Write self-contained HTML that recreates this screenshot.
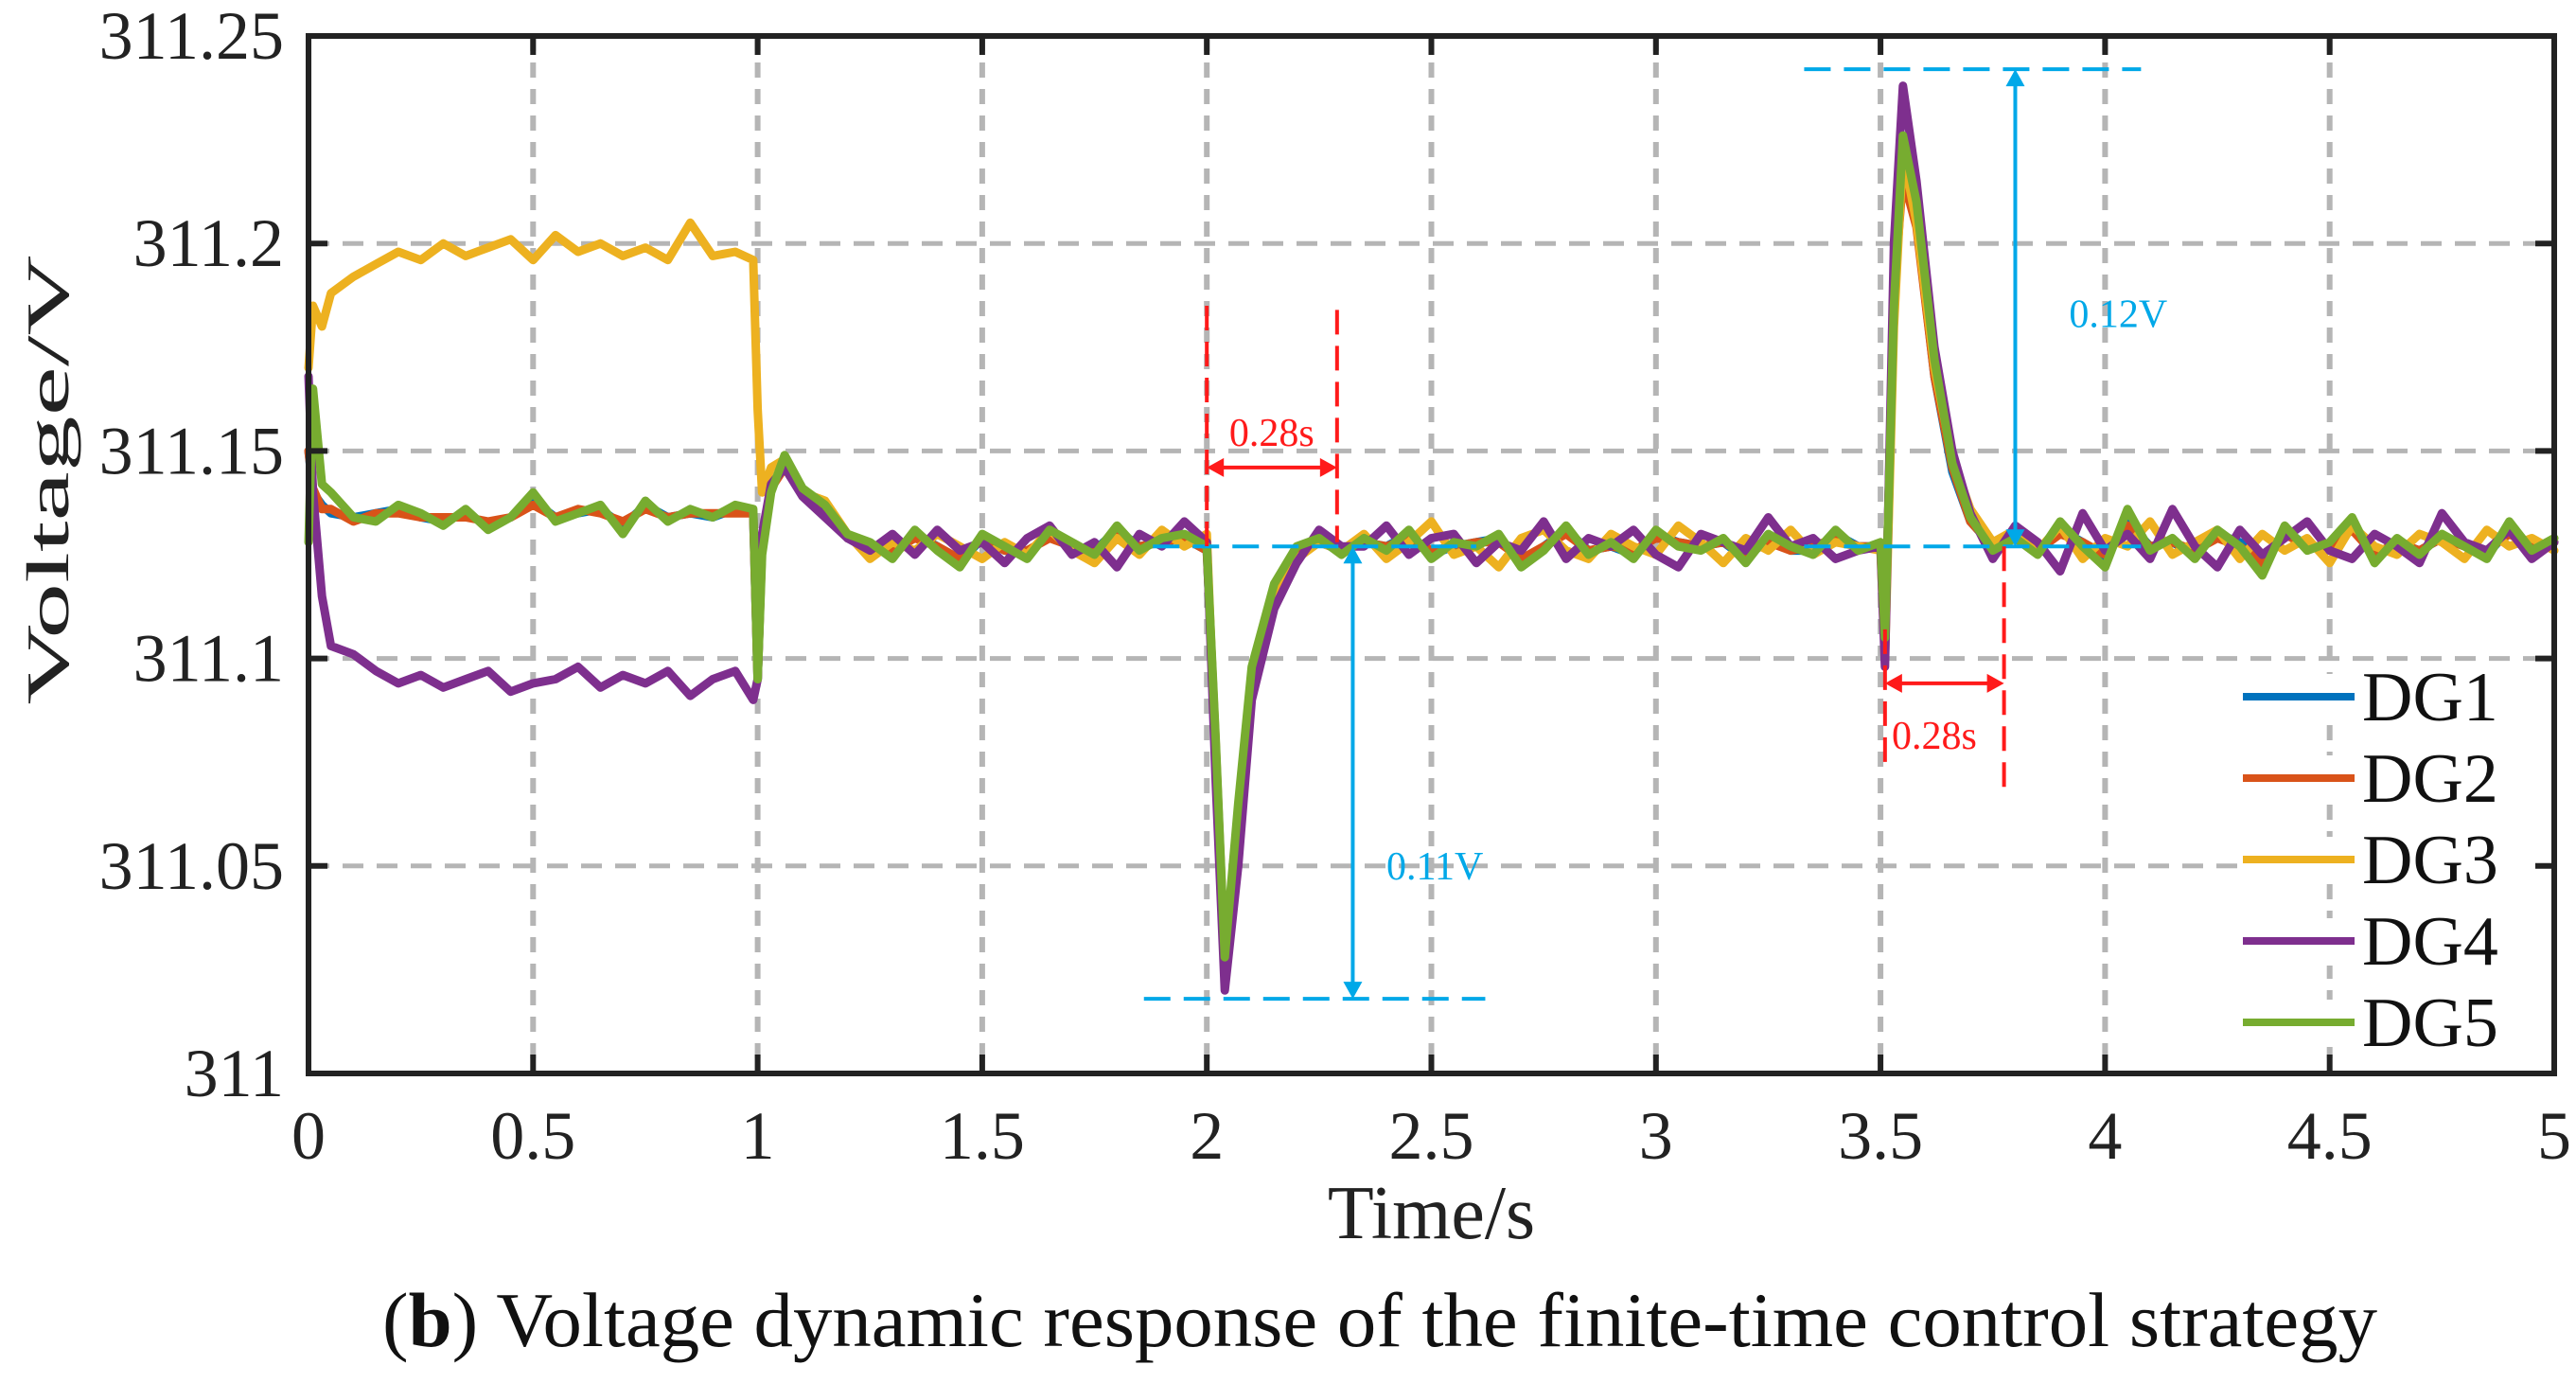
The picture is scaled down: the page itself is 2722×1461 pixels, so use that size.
<!DOCTYPE html>
<html><head><meta charset="utf-8"><style>
html,body{margin:0;padding:0;background:#fff;}
svg{display:block;font-family:"Liberation Serif",serif;}
</style></head><body>
<svg id="chart" width="2722" height="1461" viewBox="0 0 2722 1461" xmlns="http://www.w3.org/2000/svg"></svg>
<script>
const xTicks=[0,0.5,1,1.5,2,2.5,3,3.5,4,4.5,5];
const xTickLabels=["0","0.5","1","1.5","2","2.5","3","3.5","4","4.5","5"];
const yTicks=[311,311.05,311.1,311.15,311.2,311.25];
const yTickLabels=["311","311.05","311.1","311.15","311.2","311.25"];
const seriesNames=["DG1","DG2","DG3","DG4","DG5"];
const seriesColors=["#0072bd","#d95319","#edb120","#7e2f8e","#77ac30"];
const times=[0,0.01,0.03,0.05,0.1,0.15,0.2,0.25,0.3,0.35,0.4,0.45,0.5,0.55,0.6,0.65,0.7,0.75,0.8,0.85,0.9,0.95,0.99,
1.0,1.01,1.03,1.06,1.1,1.15,1.2,1.25,1.3,1.35,1.4,1.45,1.5,1.55,1.6,1.65,1.7,1.75,1.8,1.85,1.9,1.95,
2.0,2.02,2.04,2.07,2.1,2.15,2.2,2.25,2.3,2.35,2.4,2.45,2.5,2.55,2.6,2.65,2.7,2.75,2.8,2.85,2.9,2.95,3.0,3.05,3.1,3.15,3.2,3.25,3.3,3.35,3.4,3.45,
3.5,3.51,3.53,3.55,3.58,3.62,3.66,3.7,3.75,3.8,3.85,3.9,3.95,4.0,4.05,4.1,4.15,4.2,4.25,4.3,4.35,4.4,4.45,4.5,4.55,4.6,4.65,4.7,4.75,4.8,4.85,4.9,4.95,5.0];
// values in mV above 311 V
const dg1=[150,140,137,135,134,135,136,134,133,135,132,134,138,134,135,136,132,137,134,135,134,136,135,
95,128,141,147,140,136,129,127,125,130,127,123,129,126,125,130,127,126,131,127,128,129,
126,78,26,63,96,116,126,128,126,128,127,130,125,127,128,129,123,127,131,126,127,125,130,128,127,128,124,129,126,126,130,127,
127,103,190,218,205,168,145,133,127,130,126,131,128,124,133,127,128,125,130,128,122,131,127,127,132,124,128,126,129,128,125,131,127,128];
const dg2=[150,141,136,136,133,135,135,134,134,134,133,134,137,134,136,135,133,136,134,135,135,135,135,
95,127,141,146,140,137,129,127,126,129,127,124,129,126,126,129,127,126,130,127,128,129,
126,79,27,62,95,116,125,128,126,128,127,129,126,127,128,128,124,127,130,126,127,126,129,128,127,128,125,128,126,127,129,127,
127,104,188,216,204,168,146,133,127,130,126,130,128,125,132,127,128,126,129,127,123,130,127,127,131,125,128,126,129,127,126,130,127,128];
const dg3=[170,185,180,188,192,195,198,196,200,197,199,201,196,202,198,200,197,199,196,205,197,198,196,
160,140,146,148,140,138,130,124,128,126,130,127,124,128,125,131,126,123,129,125,131,127,
130,75,25,60,95,115,124,128,126,130,124,128,133,125,127,122,129,131,126,124,130,127,125,132,128,123,129,126,131,125,128,127,
126,100,180,222,205,170,148,136,128,131,126,132,124,129,127,133,125,128,131,124,130,126,129,123,132,127,125,130,128,124,131,127,129,126];
const dg4=[168,140,115,103,101,97,94,96,93,95,97,92,94,95,98,93,96,94,97,91,95,97,90,
95,130,142,146,139,134,129,126,130,125,131,126,128,123,129,132,125,128,122,130,127,133,
128,70,20,50,90,112,123,131,127,127,132,125,129,130,123,128,126,133,124,129,127,131,125,122,130,128,126,134,127,129,124,126,
127,98,200,238,215,175,150,135,124,132,128,121,135,126,130,124,136,127,122,131,125,129,133,126,124,130,127,123,135,128,126,131,124,128];
const dg5=[128,165,142,140,134,133,137,135,132,136,131,134,140,133,135,137,130,138,133,136,134,137,136,
95,125,140,149,141,137,130,128,124,131,126,122,130,127,124,131,128,125,132,126,129,130,
127,80,28,65,98,118,127,129,125,129,126,131,124,128,127,130,122,126,132,125,128,124,131,127,126,129,123,130,127,125,131,126,
128,105,185,226,210,172,147,134,126,129,125,133,127,122,136,126,129,124,131,127,120,132,126,128,134,123,129,125,130,127,124,133,126,129];
const seriesData=[dg1,dg2,dg3,dg4,dg5];

const NS="http://www.w3.org/2000/svg";
const svg=document.getElementById('chart');
const L=326,R=2699,T=38,B=1134;
const xS=t=>L+(t-0)/(5-0)*(R-L);
const yS=v=>B-(v-311)/(0.25)*(B-T);
function mk(tag,attrs,parent){const e=document.createElementNS(NS,tag);for(const k in attrs)e.setAttribute(k,attrs[k]);(parent||svg).appendChild(e);return e;}

const grid=mk('g',{});


xTicks.forEach(t=>{if(t>0&&t<5){const l=mk('line',{x1:xS(t),x2:xS(t),y1:T,y2:B,stroke:'#b5b5b5','stroke-width':6,'stroke-dasharray':'16,12'},grid);

}});
yTicks.forEach(v=>{if(v>311&&v<311.25){const l=mk('line',{x1:L,x2:R,y1:yS(v),y2:yS(v),stroke:'#b5b5b5','stroke-width':5,'stroke-dasharray':'22,14'},grid);

}});

const sg=mk('g',{fill:'none','stroke-width':9,'stroke-linejoin':'round','stroke-linecap':'round'});


seriesData.forEach((arr,i)=>{
  const d=arr.map((v,j)=>(j?'L':'M')+xS(times[j]).toFixed(1)+','+yS(311+v/1000).toFixed(1)).join('');
  const p=mk('path',{d:d,stroke:seriesColors[i]},sg);
  
  
});

const cyan='#00a8e8', red='#ff1a1a';
const ann=mk('g',{});


function dl(x1,y1,x2,y2,c,da,w){return mk('line',{x1,y1,x2,y2,stroke:c,'stroke-width':w||4,'stroke-dasharray':da||'none'},ann);}
function arrowHead(x,y,dir,c){const s=18,w=10;let pts;
 if(dir==='up')pts=`${x},${y} ${x-w},${y+s} ${x+w},${y+s}`;
 if(dir==='down')pts=`${x},${y} ${x-w},${y-s} ${x+w},${y-s}`;
 if(dir==='left')pts=`${x},${y} ${x+s},${y-w} ${x+s},${y+w}`;
 if(dir==='right')pts=`${x},${y} ${x-s},${y-w} ${x-s},${y+w}`;
 mk('polygon',{points:pts,fill:c},ann);}
dl(xS(1.86),yS(311.018),xS(2.62),yS(311.018),cyan,'28,14');
dl(xS(1.88),yS(311.127),xS(2.6),yS(311.127),cyan,'28,14');
dl(xS(3.33),yS(311.242),xS(4.08),yS(311.242),cyan,'28,14');
dl(xS(3.33),yS(311.127),xS(4.08),yS(311.127),cyan,'28,14');
dl(xS(2.325),yS(311.127)+14,xS(2.325),yS(311.018)-14,cyan);
arrowHead(xS(2.325),yS(311.127),'up',cyan);arrowHead(xS(2.325),yS(311.018),'down',cyan);
dl(xS(3.80),yS(311.242)+14,xS(3.80),yS(311.127)-14,cyan);
arrowHead(xS(3.80),yS(311.242),'up',cyan);arrowHead(xS(3.80),yS(311.127),'down',cyan);
const t1=mk('text',{x:xS(2.40),y:yS(311.05)+14,fill:cyan,'font-size':42},ann);t1.textContent='0.11V';


const t2=mk('text',{x:xS(3.92),y:yS(311.183)+14,fill:cyan,'font-size':42},ann);t2.textContent='0.12V';


dl(xS(2.0),yS(311.185),xS(2.0),yS(311.127),red,'26,12');
dl(xS(2.29),yS(311.184),xS(2.29),yS(311.128),red,'26,12');
dl(xS(2.0)+14,yS(311.146),xS(2.29)-14,yS(311.146),red);
arrowHead(xS(2.0),yS(311.146),'left',red);arrowHead(xS(2.29),yS(311.146),'right',red);
const t3=mk('text',{x:xS(2.05),y:yS(311.154)+12,fill:red,'font-size':42},ann);t3.textContent='0.28s';


dl(xS(3.51),yS(311.107),xS(3.51),yS(311.075),red,'26,12');
dl(xS(3.775),yS(311.127),xS(3.775),yS(311.069),red,'26,12');
dl(xS(3.51)+14,yS(311.094),xS(3.775)-14,yS(311.094),red);
arrowHead(xS(3.51),yS(311.094),'left',red);arrowHead(xS(3.775),yS(311.094),'right',red);
const t4=mk('text',{x:xS(3.525),y:yS(311.081)+12,fill:red,'font-size':42},ann);t4.textContent='0.28s';



const lg=mk('g',{});


const legY=[736,822,908,994,1080];
seriesNames.forEach((n,i)=>{
  const g=mk('g',{},lg);
  
  
  mk('rect',{x:2366,y:legY[i]-24,width:325,height:50,fill:'#fff'},g);
  mk('line',{x1:2370,x2:2488,y1:legY[i],y2:legY[i],stroke:seriesColors[i],'stroke-width':8},g);
  const tt=mk('text',{x:2496,y:legY[i]+25,'font-size':74,fill:'#111'},g);
  tt.textContent=n;
});

const ax=mk('g',{});


mk('rect',{x:L,y:T,width:R-L,height:B-T,fill:'none',stroke:'#222','stroke-width':6},ax);
xTicks.forEach((t,i)=>{
  mk('line',{x1:xS(t),x2:xS(t),y1:B,y2:B-20,stroke:'#222','stroke-width':6},ax);
  mk('line',{x1:xS(t),x2:xS(t),y1:T,y2:T+20,stroke:'#222','stroke-width':6},ax);
  const tx=mk('text',{x:xS(t),y:1224,'text-anchor':'middle','font-size':72,fill:'#222'},ax);
  tx.textContent=xTickLabels[i];
  
  
});
yTicks.forEach((v,i)=>{
  mk('line',{x1:L,x2:L+20,y1:yS(v),y2:yS(v),stroke:'#222','stroke-width':6},ax);
  mk('line',{x1:R,x2:R-20,y1:yS(v),y2:yS(v),stroke:'#222','stroke-width':6},ax);
  const ty=mk('text',{x:300,y:yS(v)+24,'text-anchor':'end','font-size':72,fill:'#222'},ax);
  ty.textContent=yTickLabels[i];
  
  
});
const xt=mk('text',{x:xS(2.5),y:1308,'text-anchor':'middle','font-size':80,fill:'#222'});
xt.textContent='Time/s';


const yt=mk('text',{x:0,y:0,'text-anchor':'middle','font-size':64,fill:'#222',textLength:475,lengthAdjust:'spacingAndGlyphs',transform:`translate(72,507) rotate(-90)`});
yt.textContent='Voltage/V';



const cap=mk('text',{x:1458,y:1422,'text-anchor':'middle','font-size':82,fill:'#111',textLength:2108,lengthAdjust:'spacingAndGlyphs'});


const b1=mk('tspan',{},cap);b1.textContent='(';
const b2=mk('tspan',{'font-weight':'bold'},cap);b2.textContent='b';
const b3=mk('tspan',{},cap);b3.textContent=') Voltage dynamic response of the finite-time control strategy';
</script>
</body></html>
